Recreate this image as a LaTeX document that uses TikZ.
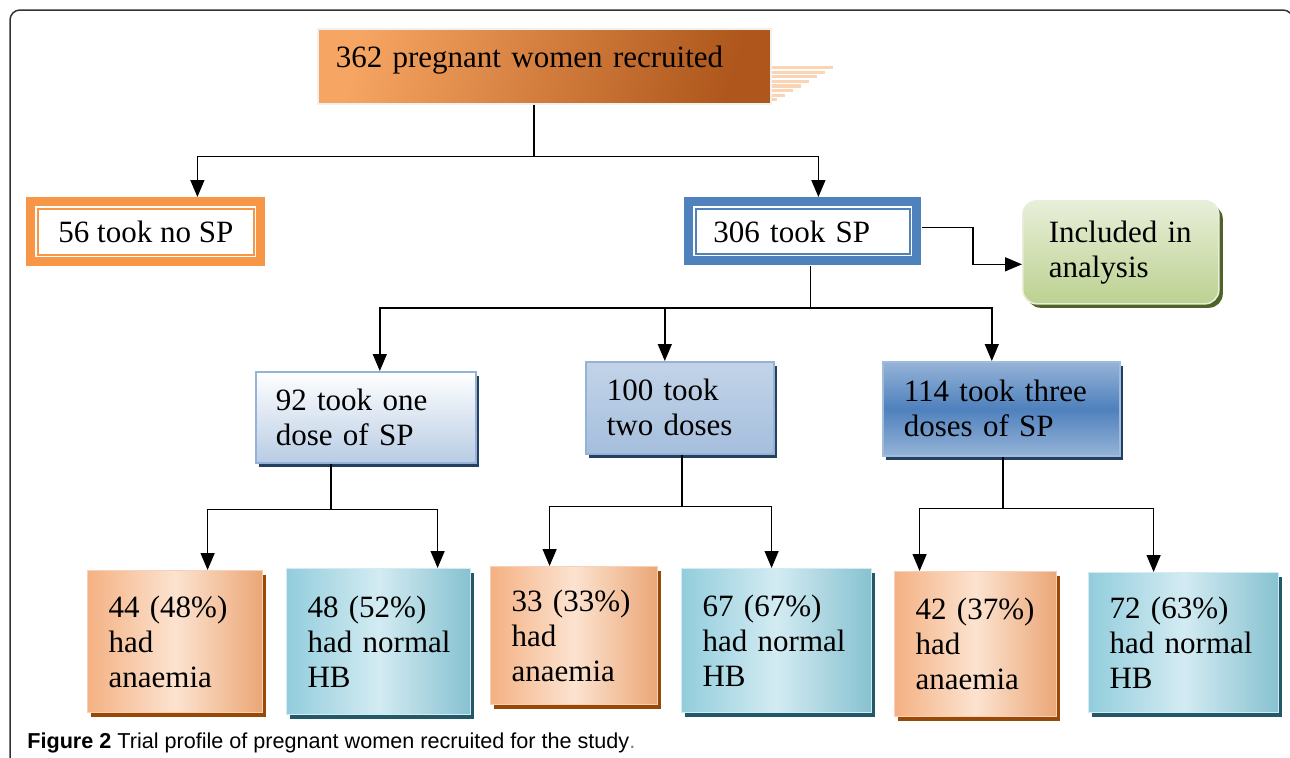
\documentclass[tikz,border=0pt]{standalone}
\usepackage{fontspec}
\setmainfont{Liberation Serif}
\newfontfamily\capfont{Liberation Sans}
\usepackage{tikz}
\usetikzlibrary{calc,shadows,arrows.meta}
\usepackage{xcolor}
\hyphenpenalty=10000
\exhyphenpenalty=10000
\definecolor{topL}{HTML}{F7A562}
\definecolor{topD}{HTML}{AE561B}
\definecolor{peach}{HTML}{FBD4B4}
\definecolor{noOrange}{HTML}{F79646}
\definecolor{spBlue}{HTML}{4F81BD}
\definecolor{paleBlue}{HTML}{B8CCE4}
\definecolor{edgeBlue}{HTML}{95B3D7}
\definecolor{navy}{HTML}{243F60}
\definecolor{greenL}{HTML}{E8EFD9}
\definecolor{greenD}{HTML}{BCD190}
\definecolor{olive}{HTML}{4F6228}
\definecolor{anaL}{HTML}{FCE3D0}
\definecolor{anaD}{HTML}{F4B183}
\definecolor{brown}{HTML}{984807}
\definecolor{hbL}{HTML}{D3EBF2}
\definecolor{hbD}{HTML}{92CDDC}
\definecolor{teal}{HTML}{215968}
\definecolor{framegray}{HTML}{333333}
\tikzset{framedbox/.style={rectangle, fill=#1, anchor=north west, align=left,
    path picture={
      \fill[white] ([shift={(4.5pt,-4.5pt)}]path picture bounding box.north west)
        rectangle ([shift={(-4.5pt,4.5pt)}]path picture bounding box.south east);
      \draw[#1, line width=0.75pt] ([shift={(5.8pt,-5.8pt)}]path picture bounding box.north west)
        rectangle ([shift={(-5.8pt,5.8pt)}]path picture bounding box.south east);
    }}}
\tikzset{shadowed/.style={drop shadow={shadow xshift=1.8pt, shadow yshift=-2.2pt, fill=#1, opacity=1}}}
\tikzstyle{plainbox} = [rectangle, anchor=north west, align=left, inner xsep=10.5pt]
\tikzstyle{anaemiabox} = [plainbox, draw=anaD!60, line width=0.6pt, shadowed=brown,
    left color=anaD, right color=anaD!90!brown, middle color=anaL]
\tikzstyle{normalbox} = [plainbox, draw=hbL, line width=0.6pt, shadowed=teal,
    left color=hbD, right color=hbD!90!teal, middle color=hbL]
\tikzstyle{link} = [line width=0.7pt]
\tikzstyle{arr} = [link, -{Triangle[length=8.5pt,width=7pt]}]

\begin{document}
\begin{tikzpicture}[x=0.5pt, y=-0.5pt, font=\fontsize{15.5}{17.5}\selectfont]
    \useasboundingbox (0,0) rectangle (1290,757);
    % frame
    \draw[framegray, line width=0.75pt, rounded corners=5pt] (10,800) -- (10,10) -- (1293,10) -- (1293,800);

    % top box and its striped shadow
    \foreach \k in {0,...,7} {
        \pgfmathsetmacro\len{65*(1-(\k*4.6+1)/37)}
        \draw[peach, line width=1.6pt] (770,{67.5+4.6*\k}) -- ++(\len,0);
    }
    \node[plainbox, inner xsep=9pt, text width=208.5pt, minimum height=37.5pt,
        text height=11pt, text depth=9.5pt, draw=gray!12, line width=0.8pt,
        left color=topL, right color=topD, shading angle=75] (recruited) at (317,28)
        {362 pregnant women recruited};

    \node[framedbox=noOrange, align=center, minimum width=119.5pt, minimum height=34.5pt] (nosp) at (26,197)
        {56 took no SP};
    \node[framedbox=spBlue, inner xsep=14.5pt, text width=89.5pt, minimum height=34pt] (sp) at (684,197)
        {306 took SP};
    \node[plainbox, inner xsep=13pt, text width=72pt, minimum height=51.5pt, rounded corners=7pt,
        draw=greenL, line width=0.8pt, top color=greenL, bottom color=greenD,
        drop shadow={shadow xshift=2pt, shadow yshift=-2pt, fill=olive, opacity=1}] (included) at (1022,200)
        {Included~in\\analysis};

    % dose groups
    \node[plainbox, inner xsep=10pt, text width=90pt, minimum height=45.5pt, draw=edgeBlue, line width=0.8pt,
        top color=white, bottom color=paleBlue, shadowed=navy] (one) at (255,371)
        {92 took one\\dose of SP};
    \node[plainbox, text width=73pt, minimum height=46pt, draw=edgeBlue, line width=0.8pt,
        top color=paleBlue!85, bottom color=edgeBlue!85, shadowed=navy] (two) at (585,361)
        {100 took\\two doses};
    \node[plainbox, text width=97.5pt, minimum height=47pt, draw=edgeBlue!90, line width=0.8pt,
        top color=edgeBlue, bottom color=edgeBlue, middle color=spBlue, shadowed=navy] (three) at (882,361)
        {114 took~three\\doses of SP};

    % outcomes
    \node[anaemiabox, text width=66.5pt, minimum height=71pt] (anaOne) at (87,570) {44 (48\%)\\had\\anaemia};
    \node[normalbox, text width=71pt, minimum height=73pt] (hbOne) at (286,568) {48 (52\%)\\had~normal\\HB};
    \node[anaemiabox, text width=62.5pt, minimum height=69pt] (anaTwo) at (490,566) {33 (33\%)\\had\\anaemia};
    \node[normalbox, text width=74pt, minimum height=72pt] (hbTwo) at (681,568) {67 (67\%)\\had~normal\\HB};
    \node[anaemiabox, text width=60pt, minimum height=72.5pt] (anaThree) at (894,571) {42 (37\%)\\had\\anaemia};
    \node[normalbox, text width=74pt, minimum height=70pt] (hbThree) at (1088,572) {72 (63\%)\\had~normal\\HB};

    % connectors
    \draw[link] ($(recruited.south)+(-10.5,0)$) -- ++(0,52) coordinate (splitTop);
    \draw[arr] (splitTop) -| ($(nosp.north)+(51.5,0)$);
    \draw[arr] (splitTop) -| ($(sp.north)+(15.5,0)$);
    \draw[arr] ($(sp.east)+(0,-4)$) -- ++(51,0) |- ($(included.west)+(0,12)$);

    \draw[link] ($(sp.south)+(7.5,0)$) -- ++(0,42) coordinate (splitSP);
    \draw[arr] (splitSP) -| ($(one.north)+(14,0)$);
    \draw[arr] (splitSP) -| ($(two.north)+(-15,0)$);
    \draw[arr] (splitSP) -| ($(three.north)+(-9.5,0)$);

    \draw[link] ($(one.south)+(-35,0)$) -- ++(0,46) coordinate (splitOne);
    \draw[arr] (splitOne) -| ($(anaOne.north)+(32.5,0)$);
    \draw[arr] (splitOne) -| ($(hbOne.north)+(59,0)$);

    \draw[link] ($(two.south)+(2,0)$) -- ++(0,52) coordinate (splitTwo);
    \draw[arr] (splitTwo) -| ($(anaTwo.north)+(-24.5,0)$);
    \draw[arr] (splitTwo) -| ($(hbTwo.north)+(-5,0)$);

    \draw[link] ($(three.south)+(1.5,0)$) -- ++(0,52) coordinate (splitThree);
    \draw[arr] (splitThree) -| ($(anaThree.north)+(-56,0)$);
    \draw[arr] (splitThree) -| ($(hbThree.north)+(-30,0)$);

    % caption
    \node[anchor=base west, inner sep=0pt, font=\capfont\fontsize{10.8}{13}\selectfont] (caption) at (27,748)
        {\textbf{Figure 2} Trial profile of pregnant women recruited for the study\textcolor{gray}{.}};
\end{tikzpicture}
\end{document}
